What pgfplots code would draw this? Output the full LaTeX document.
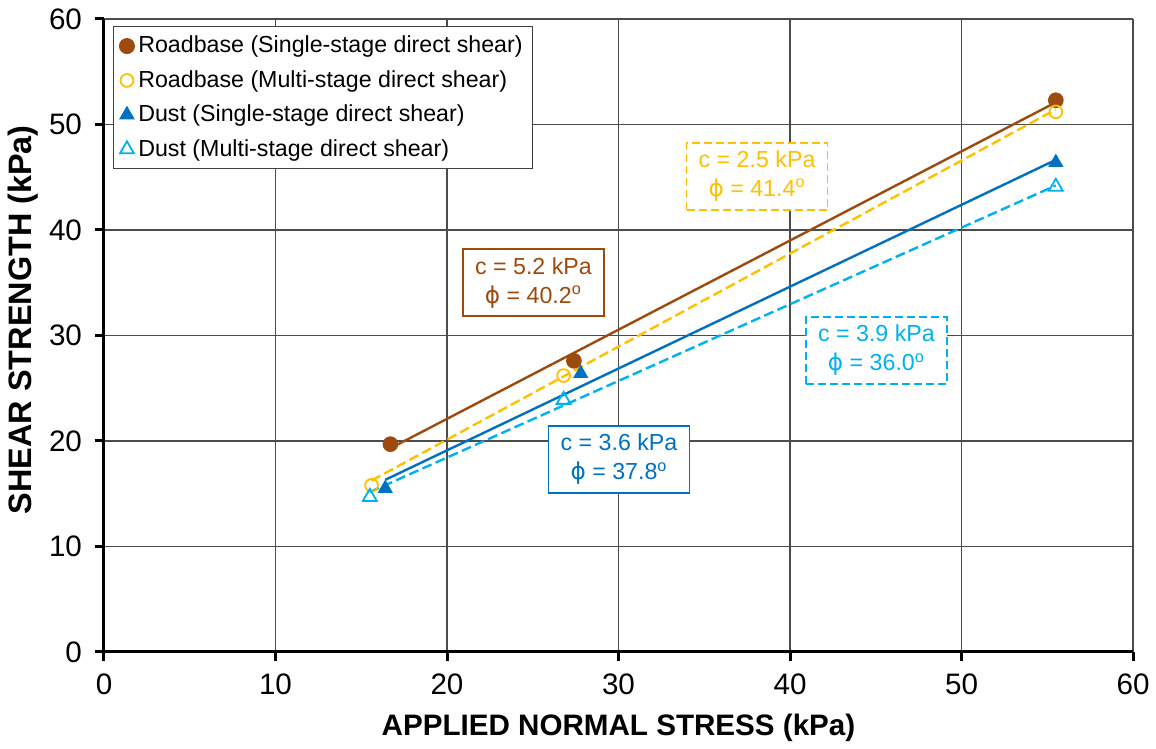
\documentclass[border=0pt]{standalone}
\usepackage{fontspec}
\setmainfont{Liberation Sans}
\newfontfamily\dejavu{DejaVu Sans}
\usepackage{pgfplots}
\pgfplotsset{compat=1.18}
\definecolor{rbrown}{RGB}{156,74,14}
\definecolor{rgold}{RGB}{255,192,0}
\definecolor{dblue}{RGB}{0,112,192}
\definecolor{lblue}{RGB}{0,176,240}
\begin{document}
\begin{tikzpicture}
\begin{axis}[
  at={(0,0)}, anchor=south west,
  scale only axis, width=514.5pt, height=316.5pt,
  xmin=0, xmax=60, ymin=0, ymax=60,
  xtick={0,10,...,60}, ytick={0,10,...,60},
  axis x line*=bottom, axis y line*=left,
  axis line style={line width=1.5pt,-},
  tick align=outside, major tick length=4.5pt,
  tick style={line width=1.5pt,black},
  grid=major, grid style={line width=0.6pt,black!70},
  /pgf/number format/assume math mode=true,
  tick label style={font=\fontsize{14.8}{16}\selectfont},
  xticklabel style={yshift=-3pt},
  yticklabel style={xshift=-3pt},
  xlabel={APPLIED NORMAL STRESS (kPa)},
  ylabel={SHEAR STRENGTH (kPa)},
  xlabel style={font=\bfseries\fontsize{14.8}{16}\selectfont, at={(axis description cs:0.5,-0.12)}, anchor=center},
  ylabel style={font=\bfseries\fontsize{16.2}{18}\selectfont, at={(axis description cs:-0.079,0.525)}, anchor=center, rotate=0},
  legend style={at={(axis description cs:0.0087,0.989)}, anchor=north west,
    draw=black!75, line width=0.6pt, font=\fontsize{11.6}{13}\selectfont,
    cells={anchor=west}, row sep=3.3pt, inner xsep=3pt, inner ysep=2.8pt},
  legend image code/.code={\draw[#1] plot coordinates {(0.12cm,0cm)};},
]
% trend lines
\addplot[rbrown, line width=1.2pt, forget plot] coordinates {(16.7,19.31) (55.5,52.10)};
\addplot[rgold, line width=1.2pt, dash pattern=on 5pt off 2.2pt, forget plot] coordinates {(15.6,16.25) (55.5,51.43)};
\addplot[dblue, line width=1.2pt, forget plot] coordinates {(16.4,16.32) (55.5,46.65)};
\addplot[lblue, line width=1.2pt, dash pattern=on 5pt off 2.2pt, forget plot] coordinates {(15.5,15.16) (55.5,44.22)};
% data
\addplot[only marks, mark=*, mark size=3.7pt, rbrown, fill=rbrown] coordinates {(16.7,19.7) (27.4,27.6) (55.5,52.3)};
\addlegendentry{Roadbase (Single-stage direct shear)}
\addplot[only marks, mark=o, mark size=3.2pt, rgold, mark options={line width=0.9pt}] coordinates {(15.6,15.8) (26.8,26.2) (55.5,51.2)};
\addlegendentry{Roadbase (Multi-stage direct shear)}
\addplot[only marks, mark=triangle*, mark size=4pt, dblue, fill=dblue] coordinates {(16.4,15.5) (27.8,26.4) (55.5,46.4)};
\addlegendentry{Dust (Single-stage direct shear)}
\addplot[only marks, mark=triangle, mark size=4pt, lblue, mark options={line width=0.9pt}] coordinates {(15.5,14.7) (26.8,23.9) (55.5,44.1)};
\addlegendentry{Dust (Multi-stage direct shear)}
% annotation boxes
\tikzset{fitbox/.style={fill=white, line width=0.9pt, minimum width=70.5pt, minimum height=33.5pt, align=center, inner sep=2pt, font=\fontsize{11.6}{14.5}\selectfont}}
\node[fitbox, draw=rbrown, text=rbrown] at (axis cs:25.04,35.02) {c = 5.2 kPa\\{\dejavu ϕ} = 40.2\textsuperscript{o}};
\node[fitbox, draw=rgold, text=rgold, dash pattern=on 4pt off 2pt] at (axis cs:38.08,45.1) {c = 2.5 kPa\\{\dejavu ϕ} = 41.4\textsuperscript{o}};
\node[fitbox, draw=lblue, text=lblue, dash pattern=on 4pt off 2pt] at (axis cs:45.04,28.6) {c = 3.9 kPa\\{\dejavu ϕ} = 36.0\textsuperscript{o}};
\node[fitbox, draw=dblue, text=dblue] at (axis cs:30.03,18.25) {c = 3.6 kPa\\{\dejavu ϕ} = 37.8\textsuperscript{o}};
\end{axis}
\pgfresetboundingbox
\path[use as bounding box] (-52pt,-48.5pt) rectangle (526pt,326pt);
\end{tikzpicture}
\end{document}
